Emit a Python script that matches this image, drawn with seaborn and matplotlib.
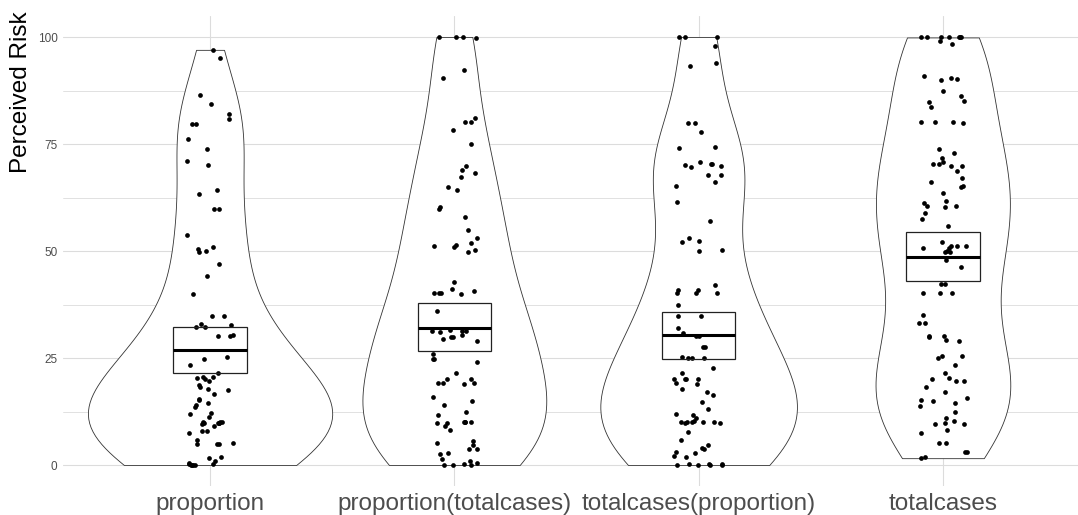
"""
plot.py - perceived risk by framing condition (violin + jitter + mean CI).
"""

import numpy as np
import pandas as pd
import matplotlib
matplotlib.use("Agg")
import matplotlib.pyplot as plt
import seaborn as sns

categories = ["proportion", "proportion(totalcases)", "totalcases(proportion)", "totalcases"]

# values
proportion = [
    97, 95, 86.5, 84.3, 82, 80.8, 79.7, 79.7, 76.2, 73.8, 71, 70, 64.2, 63.4,
    59.7, 59.7, 53.7, 50.9, 50.4, 50, 49.8, 47, 44.1, 39.9, 34.9, 34.7, 32.9,
    32.3, 32.3, 32.7, 30.3, 30.1, 30.1, 25.3, 24.8, 23.4, 21.6, 20.6, 20.6,
    20.3, 20, 19.7, 18.7, 18.3, 17.7, 17.5, 16.7, 15.4, 15.2, 14.6, 14, 13.5,
    12.1, 11.9, 11.3, 10.1, 10.1, 10.1, 9.9, 9.7, 9.7, 9.7, 9.5, 9, 7.9, 7.9,
    7.5, 5.8, 5.2, 4.8, 4.8, 4.8, 1.9, 1.6, 1, 0.5, 0.2, 0, 0, 0, 0, 0.3,
]
proportion_totalcases = [
    100, 99.7, 100, 100, 92.3, 90.4, 81.0, 80.2, 80.1, 78.3, 74.9, 69.9,
    69.0, 68.2, 67.4, 64.9, 64.2, 60.2, 59.8, 58.0, 54.8, 53.0, 51.8, 51.4,
    51.2, 50.9, 50.2, 49.7, 42.8, 41.1, 40.1, 40.1, 40.1, 40.7, 39.9, 35.9,
    31.5, 31.3, 31.0, 31.2, 31.4, 29.8, 29.4, 30.4, 29.0, 29.8, 25.9, 24.8,
    24.7, 24.1, 21.6, 20.2, 19.1, 19.1, 19.0, 19.2, 20.1, 16.0, 15.0, 14.0,
    12.3, 11.7, 10.0, 10.0, 10.1, 9.9, 10.0, 9.8, 9.0, 8.2, 5.5, 5.2, 4.7,
    3.7, 3.7, 2.7, 2.6, 1.3, 1.0, 0.5, 0.2, 0, 0, 0,
]
totalcases_proportion = [
    99.9, 100, 99.9, 98.0, 94.0, 93.2, 80.0, 80.0, 77.9, 74.1, 74.3, 70.8,
    70.3, 70.1, 69.9, 70.3, 69.7, 67.8, 67.8, 66.1, 65.3, 61.4, 57.1, 53.0,
    52.3, 52.1, 50.2, 50.0, 42.1, 40.9, 40.9, 40.3, 40.3, 40.3, 37.4, 34.7,
    34.9, 32.1, 30.9, 30.2, 30.2, 27.6, 27.6, 25.1, 25.0, 25.2, 25.1, 22.6,
    21.4, 20.2, 20.2, 20.2, 20.1, 19.1, 19.0, 17.7, 17.1, 16.4, 14.7, 13.2,
    11.8, 11.9, 11.0, 10.0, 10.0, 10.1, 9.9, 10.1, 10.0, 10.2, 9.7, 7.8, 5.8,
    4.7, 3.9, 3.8, 3.1, 2.7, 2.1, 1.8, 0.2, 0.1, 0.3, 0.0, 0.2, 0.1, 0,
]
totalcases = [
    99.9, 99.9, 99.9, 99.9, 99.9, 99.9, 99.9, 98.4, 99.1, 90.4, 90.0, 90.1,
    90.9, 87.4, 86.2, 85.0, 84.8, 83.7, 80.0, 80.1, 80.1, 80.1, 73.9, 72.8,
    71.8, 70.7, 70.3, 70.3, 69.9, 69.9, 68.6, 67.1, 66.1, 65.3, 65.0, 63.6,
    61.7, 61.3, 60.4, 60.4, 60.2, 58.8, 57.5, 55.8, 52.2, 51.2, 51.2, 51.2,
    50.6, 50.6, 50.0, 49.8, 49.8, 47.9, 46.2, 42.2, 42.2, 40.1, 40.1, 40.1,
    35.0, 33.2, 33.2, 30.2, 30.0, 30.1, 29.2, 29.0, 25.5, 25.5, 24.9, 23.3,
    21.4, 20.4, 20.0, 19.7, 19.7, 18.3, 17.0, 15.7, 15.3, 15.0, 14.6, 13.7,
    12.3, 10.9, 10.3, 9.9, 9.6, 9.6, 8.2, 7.5, 5.1, 5.1, 3.1, 3.1, 1.9, 1.6,
]

# mean with 95% CI (crossbar)
ci_mean = [26.9, 32.1, 30.4, 48.7]
ci_low = [21.5, 26.7, 24.8, 43.0]
ci_high = [32.2, 37.8, 35.8, 54.5]

groups = [proportion, proportion_totalcases, totalcases_proportion, totalcases]
df = pd.DataFrame({
    "condition": np.repeat(categories, [len(g) for g in groups]),
    "risk": np.concatenate(groups),
})

sns.set_style("white")
plt.rcParams["font.family"] = ["Liberation Sans", "DejaVu Sans"]

fig = plt.figure(figsize=(10.78, 5.15), dpi=100)
ax = fig.add_axes([63 / 1078, 0.0555, 1 - 63 / 1078, 0.9142])

sns.violinplot(data=df, x="condition", y="risk", order=categories, cut=0,
               density_norm="area", inner=None, color="white", saturation=1,
               linecolor="#333333", linewidth=0.6, width=1.0, bw_adjust=0.95,
               ax=ax, zorder=2)

np.random.seed(3)
sns.stripplot(data=df, x="condition", y="risk", order=categories,
              color="black", size=3.4, jitter=0.1, ax=ax, zorder=3)

pos = np.arange(len(categories))
ax.bar(pos, np.array(ci_high) - np.array(ci_low), bottom=ci_low, width=0.3,
       fill=False, edgecolor="#222222", linewidth=0.9, zorder=4)
ax.hlines(ci_mean, pos - 0.15, pos + 0.15, color="black", linewidth=2.2, zorder=5)

ax.set_xlim(-0.602, 3.553)
ax.set_ylim(-5, 105)
ax.set_yticks([0, 25, 50, 75, 100])
ax.set_yticks([12.5, 37.5, 62.5, 87.5], minor=True)
ax.grid(which="major", axis="both", color="#dcdcdc", linewidth=0.8)
ax.grid(which="minor", axis="y", color="#dcdcdc", linewidth=0.6)
ax.set_axisbelow(True)
for s in ax.spines.values():
    s.set_visible(False)

ax.tick_params(axis="y", which="both", length=0, pad=4, labelsize=8.5, labelcolor="#4d4d4d")
ax.tick_params(axis="x", length=0, pad=5, labelsize=17.5, labelcolor="#4d4d4d")
ax.set_xlabel("")
ax.set_ylabel("Perceived Risk", fontsize=17.5, color="black", loc="top")
ax.yaxis.set_label_coords(-0.031, 1.008)

fig.savefig("out.png", dpi=100)
plt.close(fig)
